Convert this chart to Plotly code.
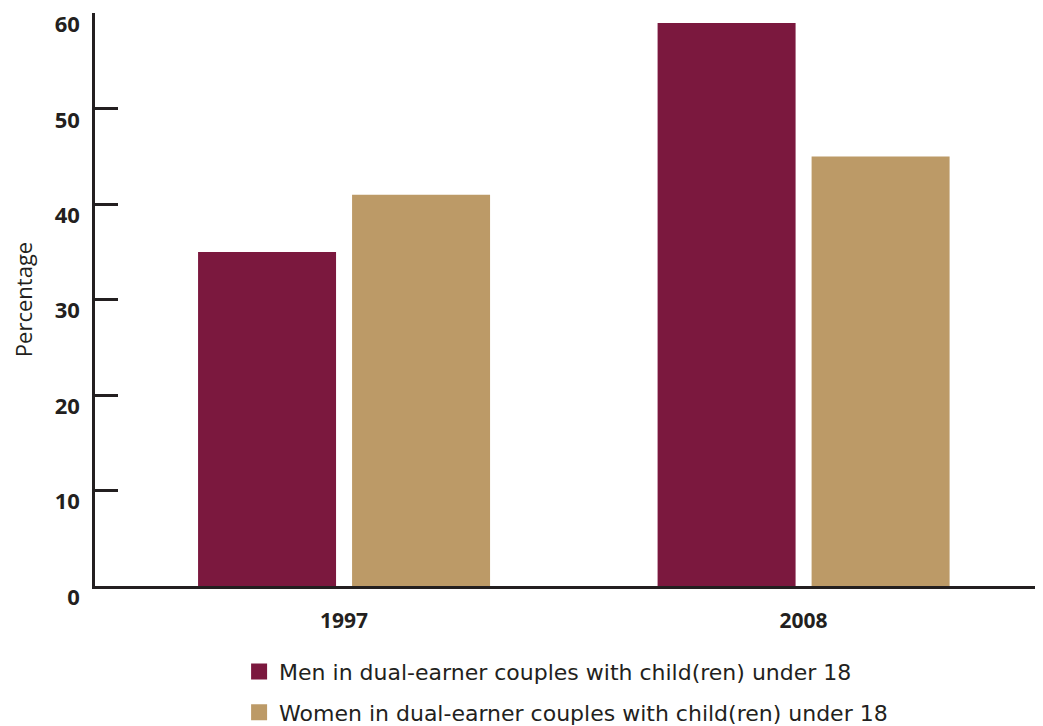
import plotly.graph_objects as go

categories = ["1997", "2008"]
men = [35, 59]
women = [41, 45]
series_names = [
    "Men in dual-earner couples with child(ren) under 18",
    "Women in dual-earner couples with child(ren) under 18",
]
y_ticks = [0, 10, 20, 30, 40, 50, 60]

MAROON = "#7B183E"
TAN = "#BC9A67"
AXIS = "#231F20"

fig = go.Figure()
fig.add_trace(go.Bar(x=categories, y=men, name=series_names[0], marker_color=MAROON,
                     marker_line_width=0, showlegend=False))
fig.add_trace(go.Bar(x=categories, y=women, name=series_names[1], marker_color=TAN,
                     marker_line_width=0, showlegend=False))
# legend entries with larger square swatches
for name, col, grp in [(series_names[0], MAROON, "a"), (series_names[1], TAN, "b")]:
    fig.add_trace(go.Scatter(x=[None], y=[None], mode="markers", name=name,
                             marker=dict(symbol="square", size=20, color=col),
                             legendgroup=grp, showlegend=True))

fig.update_layout(
    width=1035, height=718,
    margin=dict(l=87, r=0, t=5, b=140.3, pad=0, autoexpand=False),
    paper_bgcolor="white", plot_bgcolor="white",
    barmode="group", bargap=0.3297, bargroupgap=0.104,
    showlegend=True,
    legend=dict(
        x=0.152, y=-0.113, xanchor="left", yanchor="top",
        orientation="v", traceorder="grouped", tracegroupgap=9,
        itemsizing="trace",
        font=dict(family="DejaVu Sans", size=22, color=AXIS),
        bgcolor="rgba(0,0,0,0)",
    ),
    font=dict(family="Open Sans", color=AXIS),
)

fig.update_xaxes(
    type="category", range=[-0.542, 1.521], automargin=False,
    showline=True, linecolor=AXIS, linewidth=2.5,
    ticks="", showgrid=False, zeroline=False,
    tickfont=dict(family="Open Sans", size=21, weight="bold", color=AXIS),
    ticklabelstandoff=14,
)
fig.update_yaxes(
    range=[0, 60.05], tickvals=y_ticks, ticktext=[str(v) for v in y_ticks],
    automargin=False,
    showline=True, linecolor=AXIS, linewidth=2.5,
    ticks="inside", ticklen=23, tickwidth=2.5, tickcolor=AXIS,
    showgrid=False, zeroline=False,
    tickfont=dict(family="Open Sans", size=22, weight="bold", color=AXIS),
    ticklabelstandoff=8, ticklabelshift=11,
    title=dict(text="Percentage", font=dict(family="Open Sans", size=22, color=AXIS), standoff=26),
)

fig.write_html("out.html")
